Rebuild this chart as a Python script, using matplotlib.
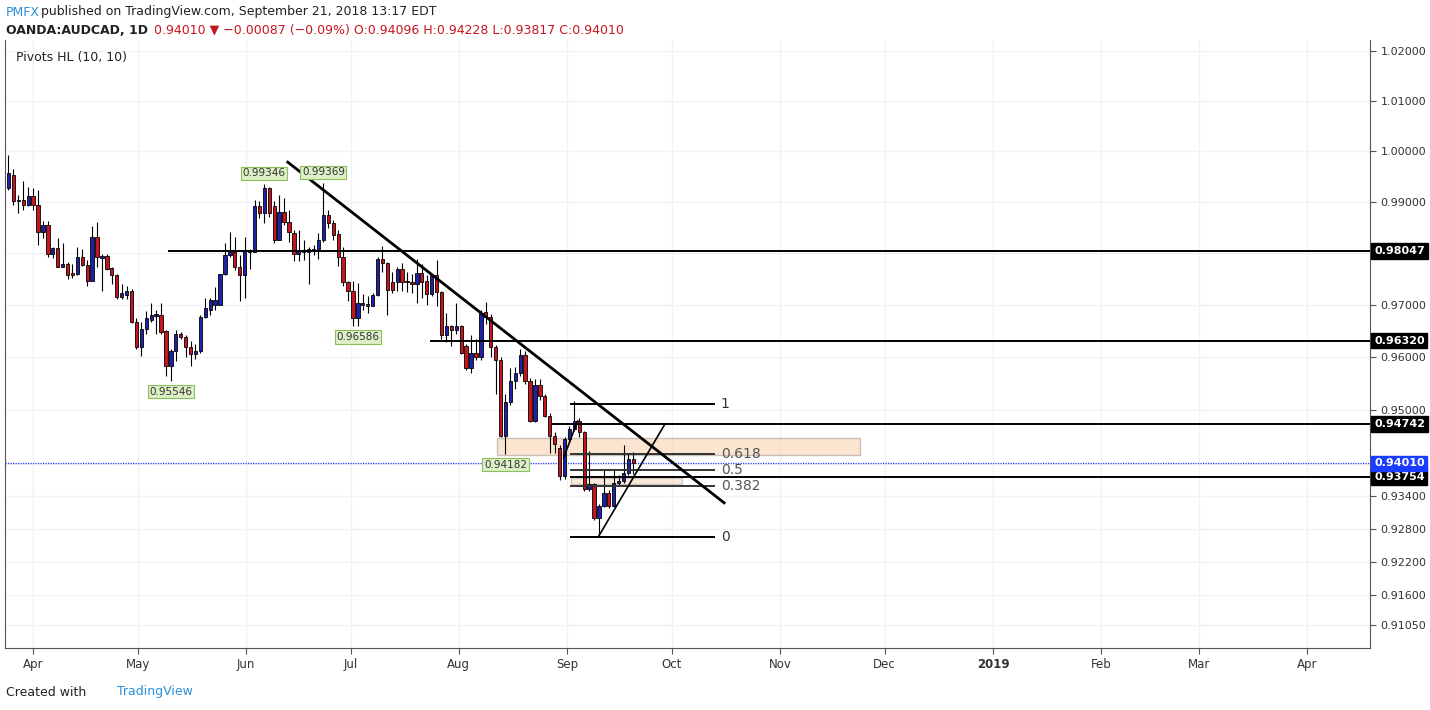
import numpy as np
import pandas as pd
import matplotlib
matplotlib.use("Agg")
import matplotlib.pyplot as plt
import matplotlib.dates as mdates
from matplotlib.patches import Rectangle
from matplotlib.ticker import FixedLocator, NullLocator
import matplotlib.transforms as mtrans

# ---------------- data ----------------
opens = [.9927, .9953, .9903, .9904, .9894, .9911, .9894, .9842, .9855, .9799,
         .9811, .9774, .9780, .9761, .9760, .9793, .9778, .9747, .9832, .9790,
         .9794, .9772, .9758, .9715, .9720, .9727, .9668, .9619, .9655, .9671,
         .9680, .9681, .9650, .9584, .9613, .9645, .9639, .9619, .9606, .9613,
         .9678, .9691, .9701, .9701, .9760, .9796, .9803, .9773, .9757, .9802,
         .9803, .9891, .9878, .9927, .9892, .9826, .9881, .9860, .9840, .9799,
         .9807, .9809, .9806, .9809, .9826, .9875, .9858, .9837, .9793, .9744,
         .9727, .9675, .9701, .9703, .9698, .9719, .9788, .9781, .9744, .9744,
         .9770, .9747, .9744, .9740, .9761, .9747, .9722, .9758, .9725, .9642,
         .9660, .9652, .9660, .9622, .9580, .9609, .9600, .9686, .9677, .9620,
         .9596, .9453, .9515, .9556, .9571, .9605, .9555, .9481, .9547, .9527,
         .9490, .9453, .9430, .9378, .9446, .9465, .9480, .9459, .9353, .9362,
         .9300, .9322, .9347, .9322, .9365, .9368, .9384, .9410]
closes = [.9956, .9901, .9901, .9894, .9911, .9894, .9842, .9855, .9799, .9811,
          .9774, .9780, .9757, .9757, .9793, .9778, .9747, .9832, .9793, .9795,
          .9770, .9758, .9715, .9724, .9727, .9668, .9619, .9655, .9675, .9681,
          .9682, .9649, .9584, .9613, .9645, .9639, .9619, .9606, .9613, .9678,
          .9694, .9709, .9709, .9760, .9796, .9803, .9773, .9757, .9806, .9806,
          .9891, .9878, .9927, .9878, .9826, .9881, .9860, .9842, .9799, .9806,
          .9803, .9803, .9809, .9826, .9875, .9858, .9835, .9793, .9744, .9727,
          .9675, .9704, .9704, .9698, .9719, .9788, .9781, .9729, .9729, .9770,
          .9744, .9744, .9740, .9761, .9744, .9722, .9758, .9725, .9642, .9660,
          .9652, .9660, .9608, .9580, .9609, .9600, .9685, .9677, .9620, .9596,
          .9453, .9515, .9556, .9571, .9605, .9555, .9481, .9547, .9527, .9490,
          .9453, .9437, .9378, .9446, .9465, .9480, .9459, .9353, .9362, .9300,
          .9322, .9347, .9322, .9365, .9368, .9384, .9409, .9401]
highs = [.9993, .9964, .9914, .9940, .9930, .9927, .9924, .9862, .9862, .9812,
         .9829, .9819, .9783, .9780, .9812, .9809, .9786, .9853, .9861, .9799,
         .9799, .9774, .9760, .9740, .9737, .9731, .9675, .9668, .9688, .9704,
         .9691, .9704, .9652, .9616, .9652, .9649, .9642, .9632, .9626, .9681,
         .9714, .9714, .9734, .9760, .9819, .9842, .9832, .9796, .9832, .9809,
         .9904, .9901, .9935, .9930, .9901, .9914, .9907, .9884, .9846, .9845,
         .9825, .9812, .9816, .9839, .9937, .9884, .9865, .9846, .9812, .9747,
         .9747, .9743, .9721, .9717, .9724, .9793, .9814, .9783, .9763, .9773,
         .9781, .9763, .9760, .9789, .9779, .9757, .9760, .9786, .9727, .9685,
         .9662, .9704, .9662, .9626, .9642, .9636, .9691, .9705, .9683, .9624,
         .9600, .9530, .9580, .9582, .9617, .9612, .9562, .9560, .9560, .9530,
         .9495, .9460, .9435, .9450, .9470, .9518, .9485, .9462, .9425, .9365,
         .9325, .9390, .9352, .9390, .9380, .9435, .9420, .9423]
lows = [.9924, .9894, .9878, .9884, .9891, .9884, .9816, .9829, .9793, .9790,
        .9773, .9773, .9750, .9753, .9757, .9776, .9737, .9747, .9773, .9727,
        .9767, .9740, .9711, .9711, .9711, .9665, .9616, .9603, .9645, .9668,
        .9645, .9645, .9564, .9555, .9593, .9635, .9600, .9583, .9597, .9609,
        .9675, .9681, .9691, .9701, .9757, .9793, .9767, .9707, .9714, .9770,
        .9803, .9868, .9858, .9871, .9819, .9826, .9855, .9822, .9785, .9785,
        .9786, .9740, .9796, .9789, .9822, .9848, .9826, .9776, .9737, .9707,
        .9659, .9659, .9691, .9685, .9698, .9717, .9763, .9681, .9724, .9727,
        .9727, .9726, .9724, .9704, .9714, .9701, .9717, .9698, .9636, .9629,
        .9622, .9645, .9606, .9577, .9570, .9596, .9596, .9664, .9600, .9530,
        .9450, .9418, .9510, .9540, .9565, .9550, .9478, .9478, .9520, .9487,
        .9420, .9420, .9370, .9372, .9440, .9462, .9450, .9350, .9350, .9296,
        .9267, .9320, .9318, .9320, .9360, .9365, .9380, .9382]

hlines = [(0.98047, "2018-05-10"), (0.96320, "2018-07-24"),
          (0.94742, "2018-08-28"), (0.93754, "2018-09-02")]
# (candle index, price, kind)
pivots = [(33, 0.95546, "low"), (52, 0.99346, "high"), (64, 0.99369, "high"),
          (71, 0.96586, "low"), (101, 0.94182, "low")]
fib_levels = [1, 0.618, 0.5, 0.382, 0]
fib_hi, fib_lo = 0.9512, 0.9266
last_price = 0.94010
y_ticks = [1.02, 1.01, 1.0, 0.99, 0.98, 0.97, 0.96, 0.95, 0.94, 0.934, 0.928,
           0.922, 0.916, 0.9105]
hidden_ticks = [0.98, 0.94]

UP, DOWN = "#1f22a8", "#c8141e"

fig = plt.figure(figsize=(14.3, 7.1), dpi=100)
ax = fig.add_axes([5 / 1430, 62 / 710, 1365 / 1430, 608 / 710])
ax.set_yscale("log")
d = lambda s: mdates.date2num(pd.Timestamp(s))

# TradingView draws trading days evenly spaced (no weekend gaps)
x = np.linspace(d("2018-03-25"), d("2018-09-20"), len(closes))
o, c, h, l = map(np.array, (opens, closes, highs, lows))
col = np.where(c >= o, UP, DOWN)
ax.vlines(x, l, h, color="black", lw=0.8, zorder=3)
ax.bar(x, np.maximum(np.abs(c - o), 0.00008), bottom=np.minimum(o, c), width=0.95,
       color=col, edgecolor="black", lw=0.6, zorder=4)

# horizontal levels
xmax = d("2019-04-19")
for p, start in hlines:
    ax.plot([d(start), xmax], [p, p], color="black", lw=1.4, zorder=5)
ax.axhline(last_price, color="#2a3cff", lw=0.9, ls=(0, (1, 1)), zorder=2)

# trendlines
ax.plot([d("2018-06-13"), d("2018-10-16")], [0.9978, 0.9328], color="black", lw=2, zorder=6)
ax.plot([d("2018-09-10"), d("2018-09-29")], [0.9266, 0.9474], color="black", lw=1.2, zorder=6)
ax.plot([d("2018-08-31"), d("2018-09-04")], [0.9411, 0.9480], color="black", lw=1.2, zorder=6)

# zones
ax.add_patch(Rectangle((d("2018-08-12"), 0.9416), d("2018-11-24") - d("2018-08-12"),
             0.0032, facecolor="#f5b47a", alpha=0.35, edgecolor="#666666", lw=1, zorder=2))
ax.add_patch(Rectangle((d("2018-09-02"), 0.9362), d("2018-10-04") - d("2018-09-02"),
             0.0011, facecolor="#f5c9a0", alpha=0.4, edgecolor="#888888", lw=1, zorder=2))

# fib retracement
for lev in fib_levels:
    p = fib_lo + lev * (fib_hi - fib_lo)
    black = lev in (0, 1)
    ax.plot([d("2018-09-02"), d("2018-10-13")], [p, p], color="black" if black else "#333333",
            lw=1.4, zorder=5)
    ax.text(d("2018-10-15"), p, f"{lev:g}", va="center", ha="left", fontsize=10,
            color="#555555" if not black else "#333333", zorder=7)

# pivot labels
for i, p, kind in pivots:
    dy = 4 if kind == "high" else -4
    ax.annotate(f"{p:.5f}", (x[i], h[i] if kind == "high" else l[i]), xytext=(0, dy),
                textcoords="offset points", ha="center",
                va="bottom" if kind == "high" else "top", fontsize=7.5, color="#333333",
                bbox=dict(boxstyle="square,pad=0.15", fc="#dcefc6", ec="#8cbf5a", lw=0.8),
                zorder=8)

ax.set_xlim(d("2018-03-24"), xmax)
ax.set_ylim(0.9064, 1.0222)
ax.yaxis.tick_right()
ax.yaxis.set_major_locator(FixedLocator(y_ticks))
ax.yaxis.set_minor_locator(NullLocator())
ax.set_yticklabels(["" if t in hidden_ticks else f"{t:.5f}" for t in y_ticks],
                   fontsize=8, color="#333333")
months = pd.date_range("2018-04-01", "2019-04-01", freq="MS")
ax.set_xticks(mdates.date2num(months))
ax.set_xticklabels(["2019" if m.month == 1 else m.strftime("%b") for m in months],
                   fontsize=8.5, color="#333333")
for lab, m in zip(ax.get_xticklabels(), months):
    if m.month == 1:
        lab.set_fontweight("bold")
ax.tick_params(length=4, color="#555555")
ax.grid(color="#f0f3f5", lw=1)
ax.set_axisbelow(True)
for s in ax.spines.values():
    s.set_color("#555555")
ax.spines["top"].set_visible(False)

# price boxes on the right axis
tr = mtrans.blended_transform_factory(ax.transAxes, ax.transData)
for p, fc in [(0.98047, "black"), (0.96320, "black"), (0.94742, "black"),
              (0.93754, "black"), (last_price, "#1a3cff")]:
    ax.text(1.003, p, f"{p:.5f}", transform=tr, va="center", ha="left", fontsize=8,
            color="white", fontweight="bold",
            bbox=dict(boxstyle="square,pad=0.25", fc=fc, ec=fc), clip_on=False, zorder=9)

ax.text(0.008, 0.965, "Pivots HL (10, 10)", transform=ax.transAxes, fontsize=9, color="#222222")

# header / footer
fig.text(6 / 1430, 1 - 12 / 710, "PMFX", color="#2a8fd8", fontsize=9, va="center")
fig.text(41 / 1430, 1 - 12 / 710, "published on TradingView.com, September 21, 2018 13:17 EDT",
         color="#222222", fontsize=9, va="center")
fig.text(6 / 1430, 1 - 30 / 710, "OANDA:AUDCAD, 1D", color="#222222", fontsize=9,
         va="center", fontweight="bold")
fig.text(154 / 1430, 1 - 30 / 710,
         "0.94010 \u25bc \u22120.00087 (\u22120.09%) O:0.94096 H:0.94228 L:0.93817 C:0.94010",
         color="#c8141e", fontsize=9, va="center")
fig.text(6 / 1430, 18 / 710, "Created with", color="#222222", fontsize=9, va="center")
fig.text(117 / 1430, 18 / 710, "TradingView", color="#2a8fd8", fontsize=9, va="center")

fig.savefig("out.png", dpi=100)
